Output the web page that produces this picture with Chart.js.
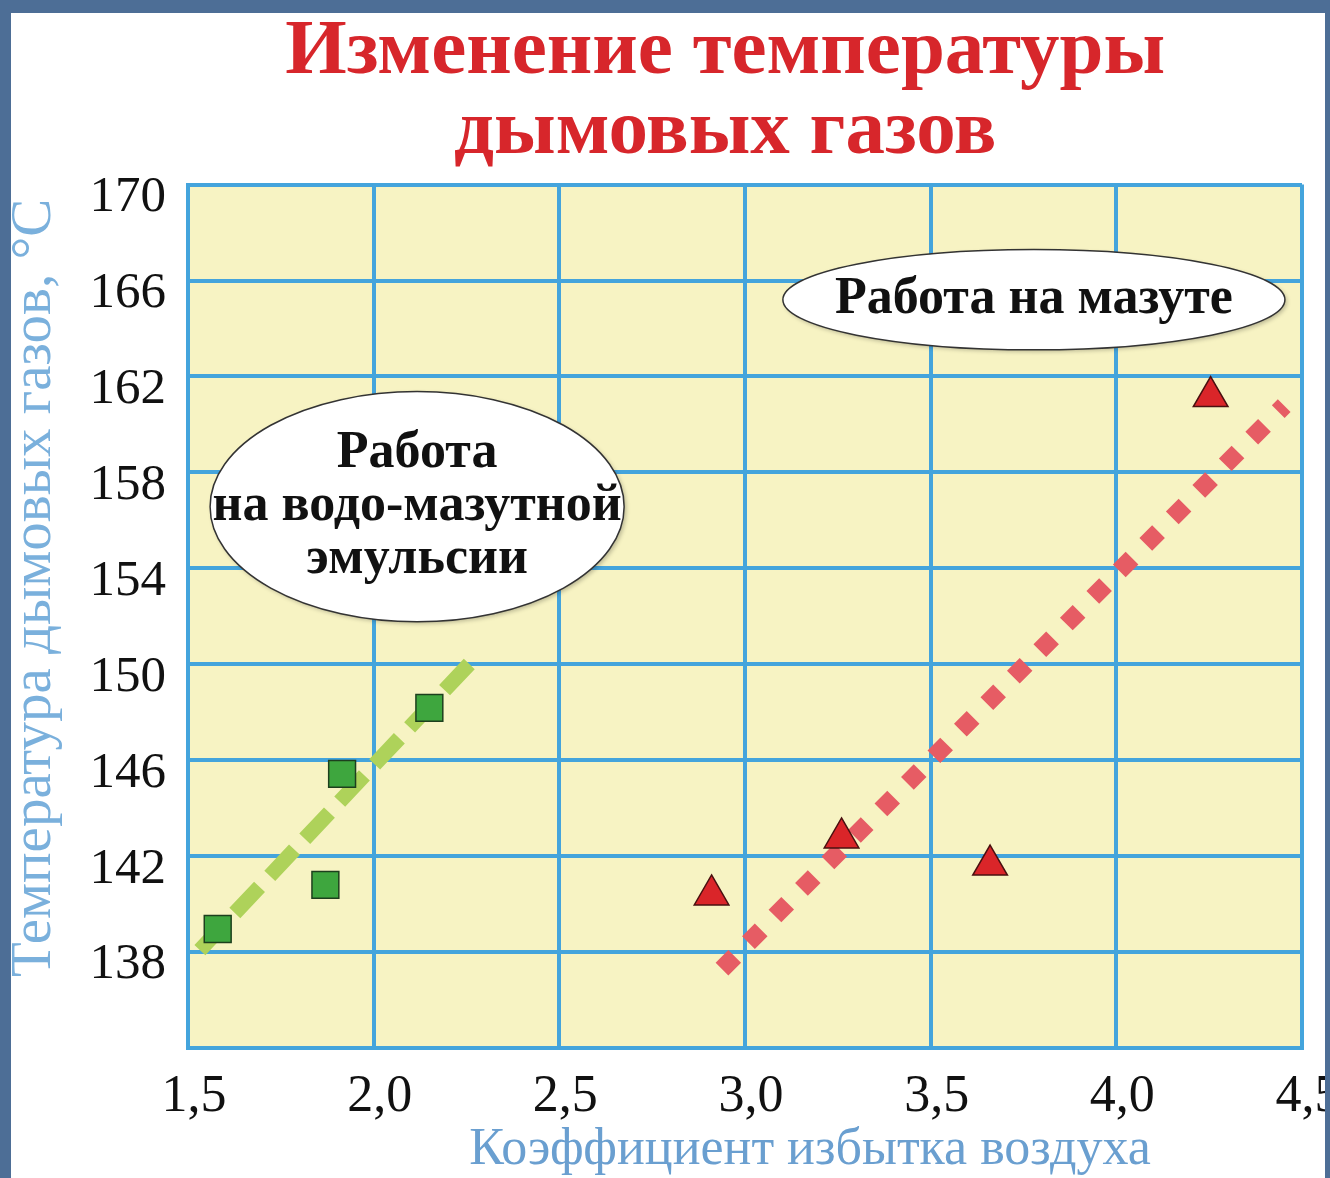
<!DOCTYPE html>
<html>
<head>
<meta charset="utf-8">
<script src="https://cdn.jsdelivr.net/npm/chart.js@4"></script>
<style>
  html, body { margin: 0; padding: 0; }
  body { background: #4d6e96; width: 1330px; height: 1178px; overflow: hidden; position: relative; }
  #frame { position: absolute; left: 11px; top: 13px; width: 1314px; height: 1165px; background: #fff; }
</style>
</head>
<body>
<div id="frame"><canvas id="smokeChart" width="1314" height="1165"></canvas></div>
<script>
    // данные графика
    const emulsionX = [1.58, 1.87, 1.915, 2.15];
    const emulsionY = [138.96, 140.8, 145.43, 148.18];
    const mazutX = [2.91, 3.26, 3.66, 4.254];
    const mazutY = [140.38, 142.76, 141.63, 161.16];
    const emulsionTrendX = [1.532, 2.275];
    const emulsionTrendY = [138.08, 150.3];
    const mazutTrendX = [2.938, 4.452];
    const mazutTrendY = [137.29, 160.78];
    const xTickLabels = ['1,5', '2,0', '2,5', '3,0', '3,5', '4,0', '4,5'];
    const yTickLabels = ['', '138', '142', '146', '150', '154', '158', '162', '166', '170'];

    const toPoints = (xs, ys) => xs.map((x, i) => ({ x: x, y: ys[i] }));
    const serif = '"Liberation Serif", "DejaVu Serif", serif';
    const nb = n => '\u00A0'.repeat(n);

    // фон области графика
    const plotBackground = {
        id: 'plotBackground',
        beforeDraw(chart) {
            const { ctx, chartArea: a } = chart;
            ctx.save();
            ctx.fillStyle = '#f7f3c3';
            ctx.fillRect(a.left, a.top, a.right - a.left, a.bottom - a.top);
            ctx.restore();
        }
    };

    // подписи в овалах
    const bubbles = [
        { x: 2.117, y: 156.57, rx: 0.5575, ry: 4.8, lines: ['Работа', 'на водо-мазутной', 'эмульсии'] },
        { x: 3.778, y: 165.2, rx: 0.676, ry: 2.09, lines: ['Работа на мазуте'] }
    ];
    const bubbleLabels = {
        id: 'bubbleLabels',
        afterDatasetsDraw(chart) {
            const { ctx, scales: { x, y } } = chart;
            bubbles.forEach(b => {
                const cx = x.getPixelForValue(b.x);
                const cy = y.getPixelForValue(b.y);
                const rx = x.getPixelForValue(b.x + b.rx) - cx;
                const ry = cy - y.getPixelForValue(b.y + b.ry);
                ctx.save();
                ctx.shadowColor = 'rgba(0,0,0,0.25)';
                ctx.shadowBlur = 4;
                ctx.shadowOffsetX = 2;
                ctx.shadowOffsetY = 2;
                ctx.beginPath();
                ctx.ellipse(cx, cy, rx, ry, 0, 0, Math.PI * 2);
                ctx.fillStyle = '#ffffff';
                ctx.fill();
                ctx.shadowColor = 'transparent';
                ctx.lineWidth = 1.5;
                ctx.strokeStyle = '#333';
                ctx.stroke();
                ctx.fillStyle = '#111';
                ctx.font = 'bold 52px ' + serif;
                ctx.textAlign = 'center';
                ctx.textBaseline = 'middle';
                const lh = 53;
                const top = cy - (b.lines.length - 1) * lh / 2;
                b.lines.forEach((t, i) => ctx.fillText(t, cx, top + i * lh));
                ctx.restore();
            });
        }
    };

    const gridBlue = '#44a4dc';

    const ctxSmoke = document.getElementById('smokeChart');
    if (ctxSmoke) {
        const smokeChart = new Chart(ctxSmoke.getContext('2d'), {
            type: 'scatter',
            data: {
                datasets: [
                    {
                        label: 'Водо-мазутная эмульсия',
                        data: toPoints(emulsionX, emulsionY),
                        pointStyle: 'rect',
                        pointRadius: 19,
                        backgroundColor: '#3ea63e',
                        borderColor: '#1d3f1d',
                        borderWidth: 1.5,
                        order: 1
                    },
                    {
                        label: 'Мазут',
                        data: toPoints(mazutX, mazutY),
                        pointStyle: 'triangle',
                        pointRadius: 20,
                        backgroundColor: '#da2529',
                        borderColor: '#4a1010',
                        borderWidth: 1.5,
                        order: 1
                    },
                    {
                        type: 'line',
                        label: 'Тренд эмульсии',
                        data: toPoints(emulsionTrendX, emulsionTrendY),
                        borderColor: '#aed25a',
                        borderWidth: 15,
                        borderDash: [36, 15],
                        borderCapStyle: 'butt',
                        pointRadius: 0,
                        fill: false,
                        order: 2
                    },
                    {
                        type: 'line',
                        label: 'Тренд мазута',
                        data: toPoints(mazutTrendX, mazutTrendY),
                        borderColor: '#e65c64',
                        borderWidth: 18,
                        borderDash: [18, 19.5],
                        borderCapStyle: 'butt',
                        pointRadius: 0,
                        fill: false,
                        order: 2
                    }
                ]
            },
            options: {
                responsive: false,
                animation: false,
                devicePixelRatio: 1,
                layout: { padding: { top: 0, left: 0, right: 23, bottom: 0 } },
                scales: {
                    x: {
                        type: 'linear',
                        min: 1.5,
                        max: 4.5,
                        afterFit(scale) {
                            scale.height = 130;
                            scale.paddingLeft = 0;
                            scale.paddingRight = 0;
                        },
                        grid: { color: gridBlue, lineWidth: 4, drawTicks: false },
                        border: { display: true, color: gridBlue, width: 4 },
                        ticks: {
                            stepSize: 0.5,
                            padding: 18,
                            labelOffset: 6,
                            color: '#111',
                            font: { family: serif, size: 52 },
                            callback: function(value, index) {
                                return xTickLabels[index];
                            }
                        },
                        title: {
                            display: true,
                            text: nb(10) + 'Коэффициент избытка воздуха',
                            color: '#6a9fd0',
                            font: { family: serif, size: 52, lineHeight: 1 },
                            padding: { top: 0, bottom: 2 }
                        }
                    },
                    y: {
                        type: 'linear',
                        min: 134,
                        max: 170,
                        afterFit(scale) {
                            scale.width = 177;
                        },
                        grid: { color: gridBlue, lineWidth: 4, drawTicks: false },
                        border: { display: true, color: gridBlue, width: 4 },
                        ticks: {
                            stepSize: 4,
                            padding: 22,
                            labelOffset: 13,
                            color: '#111',
                            font: { family: serif, size: 51 },
                            callback: function(value, index) {
                                return yTickLabels[index];
                            }
                        },
                        title: {
                            display: true,
                            text: nb(4) + 'Температура дымовых газов, °C',
                            color: '#7ab0dc',
                            font: { family: serif, size: 57, lineHeight: 1 },
                            padding: { top: -4, bottom: 0 }
                        }
                    }
                },
                plugins: {
                    legend: { display: false },
                    tooltip: { enabled: false },
                    title: {
                        display: true,
                        fullSize: false,
                        text: ['Изменение температуры' + nb(2), 'дымовых газов' + nb(2)],
                        color: '#d7262b',
                        font: { family: serif, size: 79, weight: 'bold', lineHeight: 1.01 },
                        padding: { top: 0, bottom: 12 }
                    }
                }
            },
            plugins: [plotBackground, bubbleLabels]
        });
    }
</script>
</body>
</html>
